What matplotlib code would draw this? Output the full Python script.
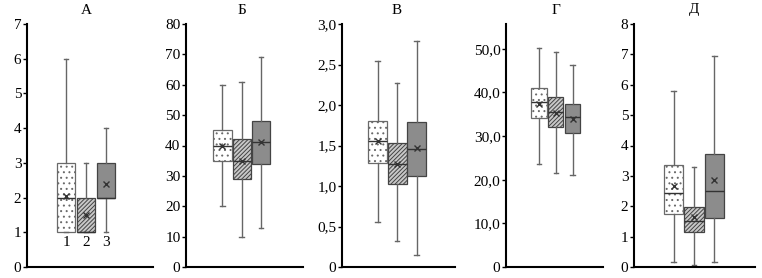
import matplotlib
matplotlib.use("Agg")
import matplotlib.pyplot as plt
import matplotlib.transforms as mtransforms

plt.rcParams['font.family'] = ['Liberation Serif', 'DejaVu Serif']
plt.rcParams['hatch.linewidth'] = 0.7

titles = ["А", "Б", "В", "Г", "Д"]

# per panel: three boxes (groups 1, 2, 3)
whis_lo = [[1, 1, 1], [20, 10, 13], [0.56, 0.32, 0.15], [23.5, 21.5, 21.0], [0.18, 0.05, 0.18]]
q1 = [[1, 1, 2], [35, 29, 34], [1.29, 1.03, 1.12], [34.1, 32.1, 30.8], [1.74, 1.15, 1.60]]
medians = [[2, 1, 2], [40, 35, 41], [1.55, 1.27, 1.46], [37.8, 35.5, 34.3], [2.45, 1.50, 2.50]]
q3 = [[3, 2, 3], [45, 42, 48], [1.80, 1.53, 1.79], [41.0, 38.9, 37.3], [3.35, 1.98, 3.72]]
whis_hi = [[6, 3, 4], [60, 61, 69], [2.54, 2.27, 2.79], [50.2, 49.2, 46.3], [5.78, 3.28, 6.95]]
means = [[2.05, 1.5, 2.4], [40, 35, 41], [1.55, 1.27, 1.47], [37.3, 35.2, 34.0], [2.68, 1.65, 2.88]]

yticks = [
    [0, 1, 2, 3, 4, 5, 6, 7],
    [0, 10, 20, 30, 40, 50, 60, 70, 80],
    [0, 0.5, 1.0, 1.5, 2.0, 2.5, 3.0],
    [0, 10, 20, 30, 40, 50],
    [0, 1, 2, 3, 4, 5, 6, 7, 8],
]
ytick_labels = [
    ["0", "1", "2", "3", "4", "5", "6", "7"],
    ["0", "10", "20", "30", "40", "50", "60", "70", "80"],
    ["0", "0,5", "1,0", "1,5", "2,0", "2,5", "3,0"],
    ["0", "10,0", "20,0", "30,0", "40,0", "50,0"],
    ["0", "1", "2", "3", "4", "5", "6", "7", "8"],
]
ytop = [7, 80, 3.0, 55.7, 8]
group_labels = ["1", "2", "3"]

# layout (pixels of a 762x278 figure)
W, H = 762, 278
axes_px = [(27, 153), (186, 303), (342, 455), (506, 603), (634, 755)]
xlims = [(-0.95, 5.35), (-0.89, 5.17), (-0.82, 4.97), (-0.97, 4.82), (-0.93, 4.98)]
widths = [0.9, 0.95, 0.97, 0.9, 0.93]

faces = ["white", "#c8c8c8", "#8c8c8c"]
hatches = ["...", "////////", None]
edges = ["#6a6a6a", "#444444", "#444444"]

fig = plt.figure(figsize=(W / 100, H / 100), dpi=100)
bottom, top = 267, 24

for i in range(5):
    x0, x1 = axes_px[i]
    ax = fig.add_axes([x0 / W, 1 - bottom / H, (x1 - x0) / W, (bottom - top) / H])
    stats = []
    for j in range(3):
        stats.append({
            "whislo": whis_lo[i][j], "q1": q1[i][j], "med": medians[i][j],
            "q3": q3[i][j], "whishi": whis_hi[i][j], "mean": means[i][j],
            "fliers": [],
        })
    bp = ax.bxp(stats, positions=[1, 2, 3], widths=widths[i], patch_artist=True,
                showmeans=True, showfliers=False,
                boxprops=dict(linewidth=0.9),
                medianprops=dict(color="#333333", linewidth=1.0),
                whiskerprops=dict(color="#666666", linewidth=1.0),
                capprops=dict(color="#666666", linewidth=1.0),
                meanprops=dict(marker="x", markeredgecolor="#333333",
                               markersize=5, markeredgewidth=1.0))
    for j, box in enumerate(bp["boxes"]):
        box.set_facecolor(faces[j])
        box.set_edgecolor(edges[j])
        if hatches[j]:
            box.set_hatch(hatches[j])
    for cap in bp["caps"]:
        xs = cap.get_xdata()
        c = (xs[0] + xs[1]) / 2
        cap.set_xdata([c - 0.12, c + 0.12])

    ax.set_xlim(*xlims[i])
    ax.set_ylim(0, ytop[i])
    ax.set_yticks(yticks[i])
    ax.set_yticklabels(ytick_labels[i], fontsize=11)
    ax.set_xticks([])
    ax.spines["top"].set_visible(False)
    ax.spines["right"].set_visible(False)
    ax.spines["left"].set_linewidth(1.5)
    ax.spines["bottom"].set_linewidth(1.5)
    ax.tick_params(axis="y", direction="out", length=3, width=1, pad=1)

    trans = mtransforms.blended_transform_factory(ax.transData, fig.transFigure)
    ax.text(2, 1 - 10 / H, titles[i], transform=trans, ha="center", va="center",
            fontsize=11)
    if i == 0:
        for j, lab in enumerate(group_labels):
            ax.text(j + 1, 0.72, lab, ha="center", va="center", fontsize=11)

fig.savefig("out.png", dpi=100)
